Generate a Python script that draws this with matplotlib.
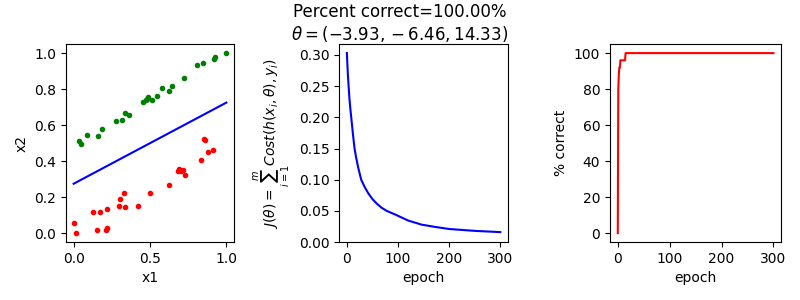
import matplotlib

matplotlib.use("Agg")

import matplotlib.pyplot as plt
import numpy as np

# Scatter data (class 1 = green, class 0 = red)
green_x1 = [0.033, 0.046, 0.088, 0.158, 0.185, 0.277, 0.316, 0.336, 0.365, 0.455,
            0.475, 0.488, 0.481, 0.510, 0.547, 0.580, 0.626, 0.646, 0.725, 0.809,
            0.844, 0.916, 0.923, 1.000]
green_x2 = [0.512, 0.495, 0.544, 0.538, 0.577, 0.623, 0.627, 0.668, 0.655, 0.729,
            0.740, 0.755, 0.744, 0.738, 0.759, 0.805, 0.788, 0.816, 0.861, 0.933,
            0.944, 0.967, 0.980, 1.000]
red_x1 = [0.000, 0.013, 0.125, 0.171, 0.152, 0.211, 0.218, 0.218, 0.297, 0.303,
          0.330, 0.336, 0.422, 0.499, 0.626, 0.681, 0.688, 0.701, 0.714, 0.732,
          0.837, 0.855, 0.859, 0.877, 0.910]
red_x2 = [0.054, 0.000, 0.115, 0.115, 0.020, 0.020, 0.030, 0.132, 0.148, 0.187,
          0.221, 0.143, 0.148, 0.221, 0.265, 0.347, 0.358, 0.347, 0.349, 0.321,
          0.404, 0.525, 0.519, 0.449, 0.460]

theta = [-3.93, -6.46, 14.33]
pct_final = 100.0

# Cost per epoch
cost_epochs = [0, 1, 2, 3, 5, 7, 9, 12, 15, 18, 22, 28, 35, 42, 50, 58, 68, 78,
               95, 120, 146, 175, 200, 250, 300]
cost_values = [0.303, 0.285, 0.268, 0.255, 0.230, 0.212, 0.196, 0.172, 0.150, 0.136,
               0.120, 0.100, 0.088, 0.078, 0.069, 0.062, 0.055, 0.050, 0.044, 0.0345,
               0.028, 0.024, 0.021, 0.018, 0.016]

# Percent correct per epoch
pct_epochs = [0, 1, 2, 3, 4, 5, 14, 15, 300]
pct_values = [0, 80, 88, 92, 92, 96, 96, 100, 100]

fig = plt.figure(figsize=(8, 3), dpi=100)
ax1 = fig.add_axes([0.0825, 0.193, 0.21, 0.66])
ax2 = fig.add_axes([0.424, 0.193, 0.211, 0.66])
ax3 = fig.add_axes([0.7625, 0.193, 0.214, 0.66])

# decision boundary: theta0 + theta1*x1 + theta2*x2 = 0
bx = np.array([0.0, 1.0])
by = -(theta[0] + theta[1] * bx) / theta[2]
ax1.plot(green_x1, green_x2, "g.")
ax1.plot(red_x1, red_x2, "r.")
ax1.plot(bx, by, "b-")
ax1.set_xlabel("x1")
ax1.set_ylabel("x2")

ax2.plot(cost_epochs, cost_values, "b-")
ax2.set_xlabel("epoch")
ax2.set_ylabel(r"$J(\theta) = \sum_{i=1}^{m} Cost(h(x_i, \theta), y_i)$")
ax2.set_ylim(0, None)

ax3.plot(pct_epochs, pct_values, "r-")
ax3.set_xlabel("epoch")
ax3.set_ylabel("% correct")

fig.suptitle("Percent correct=%.2f%%\n$\\theta = (%.2f, %.2f, %.2f)$"
             % (pct_final, theta[0], theta[1], theta[2]), y=0.99)

fig.savefig("out.png", dpi=100)
